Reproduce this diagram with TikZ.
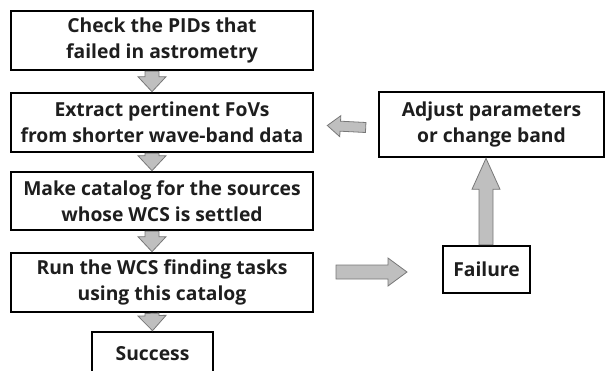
\documentclass[tikz,border=0pt]{standalone}
\usepackage{fontspec}
\setmainfont{Open Sans}
\usetikzlibrary{calc}
\definecolor{arrfill}{RGB}{191,191,191}
\definecolor{arrline}{RGB}{120,120,120}
\definecolor{txt}{RGB}{30,30,30}
\tikzset{
  box/.style={draw=black, line width=2.6pt, fill=white, inner sep=0pt, align=center,
    font=\fontsize{19.3}{26}\selectfont\bfseries, text=txt},
  arrowstyle/.style={fill=arrfill, draw=arrline, line width=0.8pt, line join=miter}
}
\newcommand\blockarrow[5]{%
  \path[arrowstyle] let \p1=($(#2)-(#1)$), \n1={veclen(\x1,\y1)}, \n2={atan2(\y1,\x1)} in
    [shift={(#1)}, rotate=\n2]
    (0,-#3) -- (\n1-#5,-#3) -- (\n1-#5,-#4) -- (\n1,0) -- (\n1-#5,#4) -- (\n1-#5,#3) -- (0,#3) -- cycle;}
\begin{document}
\begin{tikzpicture}[x=1pt,y=-1pt]
\useasboundingbox (0,0) rectangle (605,370);
\clip (0,0) rectangle (605,370);
\node[box, minimum width=302pt, minimum height=59pt] (b1) at (162,40.5) {Check the PIDs that\\failed in astrometry};
\node[box, minimum width=302pt, minimum height=59pt] (b2) at (162,122.5) {Extract pertinent FoVs\\from shorter wave-band data};
\node[box, minimum width=302pt, minimum height=58pt] (b3) at (162,201) {Make catalog for the sources\\whose WCS is settled};
\node[box, minimum width=302pt, minimum height=59pt] (b4) at (162,282.5) {Run the WCS finding tasks\\using this catalog};
\node[box, minimum width=121pt, minimum height=44pt] (succ) at (152.5,354) {Success};
\node[box, minimum width=225pt, minimum height=65pt] (adj) at (491.5,124.5) {Adjust parameters\\or change band};
\node[box, minimum width=87pt, minimum height=47pt] (fail) at (486.5,269.5) {Failure};
% down arrows
\coordinate (d1s) at ($(b1.south)+(-10,0)$); \coordinate (d1e) at ($(b2.north)+(-10,0)$);
\coordinate (d2s) at ($(b2.south)+(-10,0)$); \coordinate (d2e) at ($(b3.north)+(-10,0)$);
\coordinate (d3s) at ($(b3.south)+(-10,0)$); \coordinate (d3e) at ($(b4.north)+(-10,0)$);
\coordinate (d4s) at ($(b4.south)+(-10,0)$); \coordinate (d4e) at (succ.north);
\blockarrow{d1s}{d1e}{7}{14}{15}
\blockarrow{d2s}{d2e}{7}{14}{15}
\blockarrow{d3s}{d3e}{7}{14}{15}
\blockarrow{d4s}{d4e}{7}{14}{15}
% right arrow to failure
\coordinate (rs) at (336,272); \coordinate (re) at (407,272);
\blockarrow{rs}{re}{7}{14}{19}
% up arrow failure -> adjust
\coordinate (us) at ($(fail.north)+(-0.5,0)$); \coordinate (ue) at ($(adj.south)+(-5.5,0)$);
\blockarrow{us}{ue}{7}{14}{31}
% left arrow adjust -> box2
\coordinate (ls) at ($(adj.west)+(-12,3)$); \coordinate (le) at ($(b2.east)+(13,3)$);
\blockarrow{ls}{le}{5}{10.5}{13}
\end{tikzpicture}
\end{document}
